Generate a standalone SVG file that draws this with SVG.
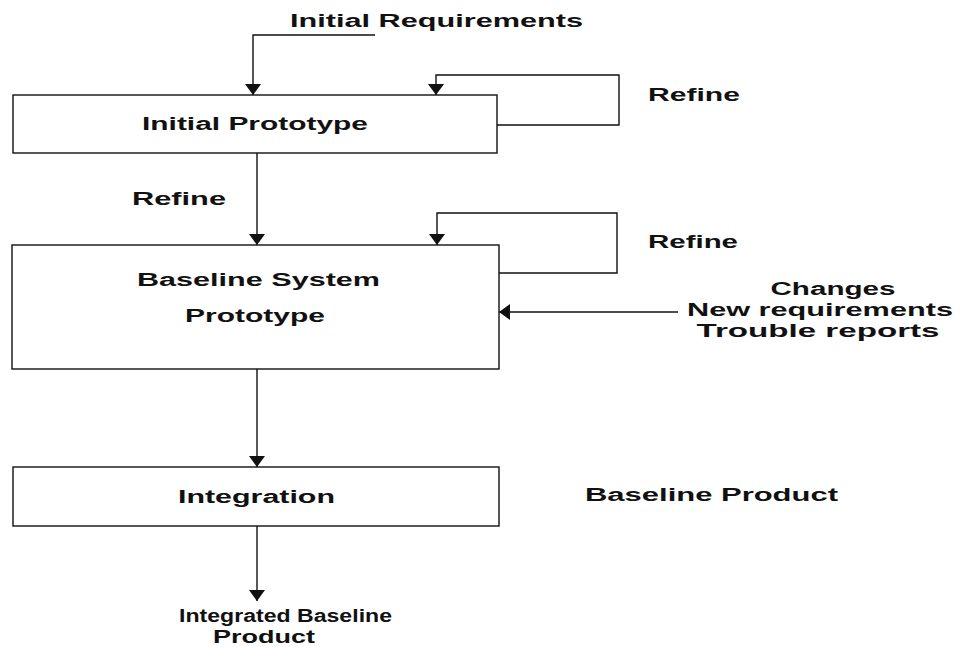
<svg xmlns="http://www.w3.org/2000/svg" width="969" height="647" viewBox="0 0 969 647">
  <style>
    .box { fill: #fff; stroke: #111; stroke-width: 1.4; }
    .wire { fill: none; stroke: #111; stroke-width: 1.4; }
    .lbl { font-family: "Liberation Sans", Arial, sans-serif; font-size: 18px; font-weight: bold; fill: #111; }
    .mid { text-anchor: middle; }
  </style>
  <defs>
    <!-- short, wide filled arrowhead -->
    <marker id="tip" markerUnits="userSpaceOnUse" markerWidth="11" markerHeight="16" viewBox="0 0 11 16" refX="11" refY="8" orient="auto">
      <path d="M0,0 L11,8 L0,16 Z" fill="#111"/>
    </marker>
  </defs>

  <rect width="969" height="647" fill="#fff"/>

  <!-- connectors -->
  <g id="connectors">
    <path class="wire" d="M375,35 H253 V95" marker-end="url(#tip)"/>
    <path class="wire" d="M497,125 H619 V75 H436 V95" marker-end="url(#tip)"/>
    <path class="wire" d="M257,153 V245" marker-end="url(#tip)"/>
    <path class="wire" d="M499,273 H617 V213 H437 V245" marker-end="url(#tip)"/>
    <path class="wire" d="M678,312 H499" marker-end="url(#tip)"/>
    <path class="wire" d="M257,369 V467" marker-end="url(#tip)"/>
    <path class="wire" d="M257,526 V601" marker-end="url(#tip)"/>
  </g>

  <!-- nodes -->
  <g id="initial-prototype">
    <rect class="box" x="13" y="95" width="484" height="58"/>
    <text class="lbl" x="142" y="130" textLength="226" lengthAdjust="spacingAndGlyphs">Initial Prototype</text>
  </g>
  <g id="baseline-system">
    <rect class="box" x="12" y="245" width="487" height="124"/>
    <text class="lbl" x="137" y="286" textLength="243" lengthAdjust="spacingAndGlyphs">Baseline System</text>
    <text class="lbl" x="185" y="322" textLength="140" lengthAdjust="spacingAndGlyphs">Prototype</text>
  </g>
  <g id="integration">
    <rect class="box" x="13" y="467" width="486" height="59"/>
    <text class="lbl" x="178" y="503" textLength="157" lengthAdjust="spacingAndGlyphs">Integration</text>
  </g>

  <!-- free labels -->
  <g id="labels">
    <text class="lbl" x="290" y="27" textLength="293" lengthAdjust="spacingAndGlyphs">Initial Requirements</text>
    <text class="lbl" x="648" y="101" textLength="92" lengthAdjust="spacingAndGlyphs">Refine</text>
    <text class="lbl" x="132" y="205" textLength="94" lengthAdjust="spacingAndGlyphs">Refine</text>
    <text class="lbl" x="648" y="248" textLength="90" lengthAdjust="spacingAndGlyphs">Refine</text>
    <text class="lbl mid" x="833" y="295" textLength="125" lengthAdjust="spacingAndGlyphs">Changes</text>
    <text class="lbl mid" x="820" y="316" textLength="266" lengthAdjust="spacingAndGlyphs">New requirements</text>
    <text class="lbl mid" x="818" y="337" textLength="243" lengthAdjust="spacingAndGlyphs">Trouble reports</text>
    <text class="lbl" x="585" y="501" textLength="253" lengthAdjust="spacingAndGlyphs">Baseline Product</text>
    <text class="lbl" x="179" y="622" textLength="213" lengthAdjust="spacingAndGlyphs">Integrated Baseline</text>
    <text class="lbl" x="213" y="643" textLength="102" lengthAdjust="spacingAndGlyphs">Product</text>
  </g>
</svg>
